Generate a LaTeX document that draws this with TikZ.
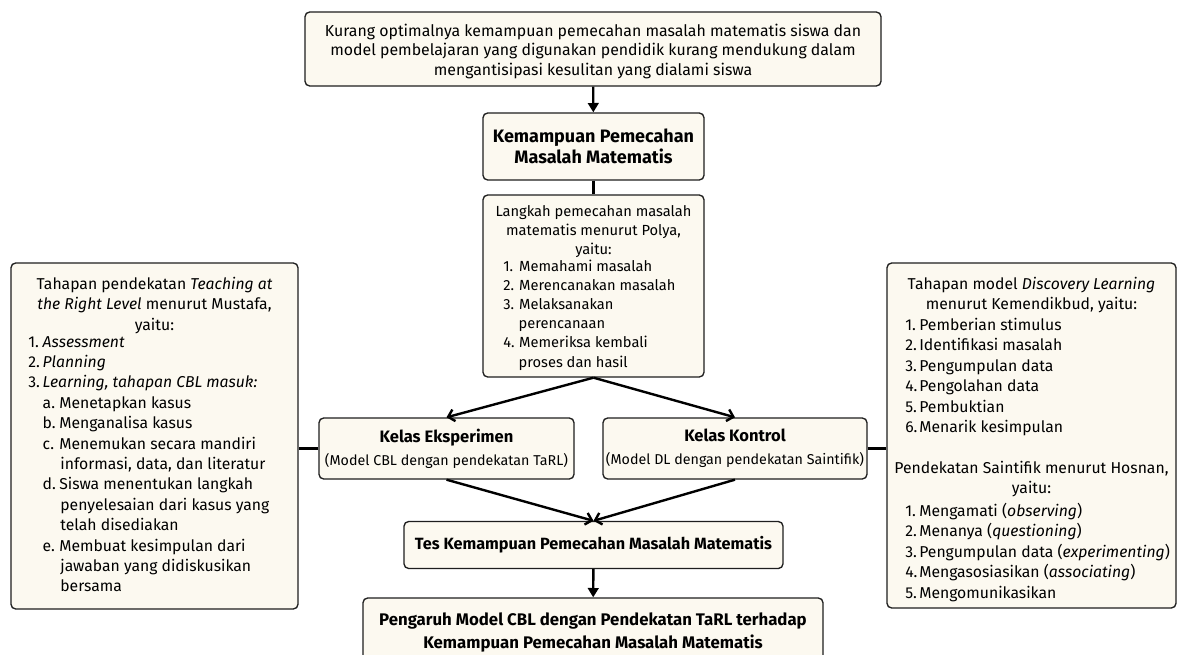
\documentclass[tikz,border=0pt]{standalone}
\usepackage{fontspec}
\setmainfont{Fira Sans}
\usetikzlibrary{arrows.meta}
\definecolor{boxfill}{RGB}{252,249,240}
\definecolor{boxline}{RGB}{30,30,30}
\newcommand{\lb}[2][0.92em]{\makebox[#1][l]{#2}}
\newcommand{\ind}[1][0.92em]{\hspace*{#1}}
\tikzset{
  box/.style={draw=boxline, fill=boxfill, line width=1pt, rounded corners=3.5pt,
    inner sep=0pt, align=center},
  size/.style 2 args={minimum width=#1*0.75pt, minimum height=#2*0.75pt},
  txt/.style={inner sep=0pt, font=\fontsize{11.8}{15.3}\selectfont},
  link/.style={line width=1.8pt, draw=black},
  head/.style={link, -{Triangle[length=7pt,width=8pt]}},
  barb/.style={link, -{Straight Barb[length=4.5pt,width=9pt]}},
}
\begin{document}
\begin{tikzpicture}[x=0.75pt,y=-0.75pt]
\clip (0,0) rectangle (1179,654);
\fill[white] (0,0) rectangle (1179,654);
% centre column
\node[box, size={576}{74}, font=\fontsize{11.9}{14.6}\selectfont] (masalah) at (593,49)
  {\rule{0pt}{13pt}Kurang optimalnya kemampuan pemecahan masalah matematis siswa dan\\
   model pembelajaran yang digunakan pendidik kurang mendukung dalam\\
   mengantisipasi kesulitan yang dialami siswa};
\node[box, size={221}{67}, font=\fontsize{13.5}{15.75}\selectfont\bfseries] (kpm) at (593.5,146.5)
  {Kemampuan Pemecahan\\Masalah Matematis};
\node[box, size={221}{182}] (polya) at (593.5,286) {};
\node[txt, anchor=north, align=center, font=\fontsize{11}{14.3}\selectfont] (polyahead) at (593.5,205)
  {Langkah pemecahan masalah\\matematis menurut Polya,\\yaitu:};
\node[txt, anchor=north west, align=left, font=\fontsize{11}{14.3}\selectfont] (polyalist) at (503,260)
  {\lb[1.09em]{1.}Memahami masalah\\ \lb[1.09em]{2.}Merencanakan masalah\\ \lb[1.09em]{3.}Melaksanakan\\
   \ind[1.05em]perencanaan\\ \lb[1.09em]{4.}Memeriksa kembali\\ \ind[1.05em]proses dan hasil};
\node[box, size={255}{61}, font=\fontsize{12.4}{15}\selectfont] (eks) at (446.5,448.5)
  {\textbf{Kelas Eksperimen}\\[2.5pt]{\fontsize{10.7}{13}\selectfont(Model CBL dengan pendekatan TaRL)}};
\node[box, size={264}{61}, font=\fontsize{12.4}{15}\selectfont] (kon) at (735,448.5)
  {\textbf{Kelas Kontrol}\\[2.5pt]{\fontsize{10.7}{13}\selectfont(Model DL dengan pendekatan Saintifik)}};
\node[box, size={379}{47}, font=\fontsize{12.2}{15}\selectfont\bfseries] (tes) at (593.5,545)
  {\rule{0pt}{10pt}Tes Kemampuan Pemecahan Masalah Matematis};
\node[box, size={460}{68}, font=\fontsize{12.6}{17.25}\selectfont\bfseries] (pengaruh) at (593,632)
  {Pengaruh Model CBL dengan Pendekatan TaRL terhadap\\Kemampuan Pemecahan Masalah Matematis};
% left side
\node[box, size={287}{346}] (tarl) at (154.5,436) {};
\node[txt, anchor=north, align=center] (tarlhead) at (154.5,277)
  {Tahapan pendekatan \textit{Teaching at}\\ \textit{the Right Level} menurut Mustafa,\\ yaitu:};
\node[txt, anchor=north west, align=left] (tarllist) at (28,336)
  {\lb{1.}\textit{Assessment}\\ \lb{2.}\textit{Planning}\\ \lb{3.}\textit{Learning, tahapan CBL masuk:}\\
   \ind\lb[1.05em]{a.}Menetapkan kasus\\ \ind\lb[1.05em]{b.}Menganalisa kasus\\
   \ind\lb[1.05em]{c.}Menemukan secara mandiri\\ \ind\ind[1.12em]informasi, data, dan literatur\\
   \ind\lb[1.05em]{d.}Siswa menentukan langkah\\ \ind\ind[1.12em]penyelesaian dari kasus yang\\
   \ind\ind[1.12em]telah disediakan\\
   \ind\lb[1.05em]{e.}Membuat kesimpulan dari\\ \ind\ind[1.12em]jawaban yang didiskusikan\\
   \ind\ind[1.12em]bersama};
% right side
\node[box, size={289}{345}] (dl) at (1031.5,435.5) {};
\node[txt, anchor=north, align=center] (dlhead) at (1031.5,277)
  {Tahapan model \textit{Discovery Learning}\\ menurut Kemendikbud, yaitu:};
\node[txt, anchor=north west, align=left] (dllist) at (905,318)
  {\lb[0.89em]{1.}Pemberian stimulus\\ \lb[0.89em]{2.}Identifikasi masalah\\ \lb[0.89em]{3.}Pengumpulan data\\
   \lb[0.89em]{4.}Pengolahan data\\ \lb[0.89em]{5.}Pembuktian\\ \lb[0.89em]{6.}Menarik kesimpulan};
\node[txt, anchor=north, align=center] (sainhead) at (1031.5,461)
  {Pendekatan Saintifik menurut Hosnan,\\ yaitu:};
\node[txt, anchor=north west, align=left] (sainlist) at (905,503)
  {\lb[0.89em]{1.}Mengamati (\textit{observing})\\ \lb[0.89em]{2.}Menanya (\textit{questioning})\\
   \lb[0.89em]{3.}Pengumpulan data (\textit{experimenting})\\ \lb[0.89em]{4.}Mengasosiasikan (\textit{associating})\\
   \lb[0.89em]{5.}Mengomunikasikan};
% connectors
\draw[head] (masalah) -- (kpm);
\draw[link] (kpm) -- (polya);
\draw[barb] (polya.south) -- (eks.north);
\draw[barb] (polya.south) -- (kon.north);
\draw[link] (eks.west) -- (eks.west -| tarl.east);
\draw[link] (kon.east) -- (kon.east -| dl.west);
\draw[barb] (eks.south) -- (tes.north);
\draw[barb] (kon.south) -- (tes.north);
\draw[head] (tes) -- (pengaruh);
\end{tikzpicture}
\end{document}
